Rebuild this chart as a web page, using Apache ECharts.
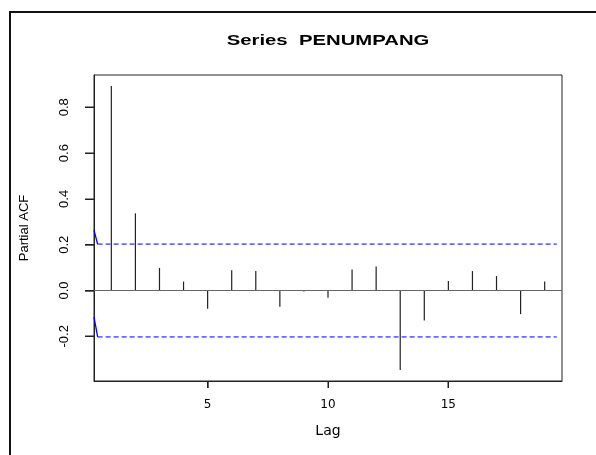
<!DOCTYPE html>
<html>
<head>
<meta charset="utf-8">
<script src="https://cdn.jsdelivr.net/npm/echarts@6/dist/echarts.min.js"></script>
<style>
  html, body { margin: 0; padding: 0; background: #fff; }
  #chart { width: 596px; height: 455px; }
</style>
</head>
<body>
<div id="chart"></div>
<script>
// ---- data ----
const lags = [1, 2, 3, 4, 5, 6, 7, 8, 9, 10, 11, 12, 13, 14, 15, 16, 17, 18, 19];
const pacfValues = [0.893, 0.337, 0.099, 0.039, -0.080, 0.089, 0.085, -0.071, -0.004, -0.032,
                    0.092, 0.105, -0.347, -0.131, 0.042, 0.085, 0.063, -0.103, 0.039];
const ciLimit = 0.2025;
const ciLagRange = [0.43, 19.5];
const blueTopSegment = [[0.28, 0.264], [0.43, 0.2025]];
const blueBottomSegment = [[0.28, -0.115], [0.43, -0.2025]];
const xTicks = [5, 10, 15];
const yTicks = [-0.2, 0.0, 0.2, 0.4, 0.6, 0.8];
const xRange = [0.28, 19.72];
const yRange = [-0.395, 0.941];
const titleText = 'Series  PENUMPANG';
const xName = 'Lag';
const yName = 'Partial ACF';

const barData = lags.map((l, i) => [l, pacfValues[i]]);
const ciUpper = ciLagRange.map(l => [l, ciLimit]);
const ciLower = ciLagRange.map(l => [l, -ciLimit]);

const chart = echarts.init(document.getElementById('chart'), null, { renderer: 'canvas' });
const FONT = '"Liberation Sans", Arial, sans-serif';

chart.setOption({
  animation: false,
  backgroundColor: '#fff',
  grid: {
    left: 94, right: 34, top: 75, bottom: 74,
    show: true, borderColor: '#222', borderWidth: 1, backgroundColor: 'transparent'
  },
  graphic: [
    {
      id: 'frame', type: 'rect', silent: true,
      shape: { x: 10, y: 12, width: 700, height: 600 },
      style: { fill: 'none', stroke: '#111', lineWidth: 2 }
    },
    {
      id: 'title', type: 'text', silent: true,
      x: 328, y: 41, scaleX: 1.45, scaleY: 1,
      style: {
        text: titleText, fontFamily: FONT, fontWeight: 'bold', fontSize: 14,
        fill: '#000', align: 'center', verticalAlign: 'middle'
      }
    }
  ],
  xAxis: {
    type: 'value', min: xRange[0], max: xRange[1],
    name: xName, nameLocation: 'middle', nameGap: 43,
    nameTextStyle: { fontFamily: '"DejaVu Sans", sans-serif', fontSize: 14, color: '#000' },
    axisLine: { show: true, onZero: false, lineStyle: { color: '#222', width: 1 } },
    splitLine: { show: false },
    axisTick: { show: true, inside: false, customValues: xTicks, length: 7, lineStyle: { color: '#222', width: 1 } },
    axisLabel: { show: true, customValues: xTicks, margin: 18, fontFamily: '"DejaVu Sans", sans-serif', fontSize: 12, color: '#000' }
  },
  yAxis: {
    type: 'value', min: yRange[0], max: yRange[1],
    name: yName, nameLocation: 'middle', nameGap: 63, nameRotate: 90,
    nameTextStyle: { fontFamily: FONT, fontSize: 13, color: '#000' },
    axisLine: { show: true, onZero: false, lineStyle: { color: '#222', width: 1 } },
    splitLine: { show: false },
    axisTick: { show: true, inside: false, customValues: yTicks, length: 9, lineStyle: { color: '#222', width: 1 } },
    axisLabel: {
      show: true, customValues: yTicks, rotate: 90, margin: 23,
      fontFamily: FONT, fontSize: 13, color: '#000',
      formatter: v => Number(v).toFixed(1)
    }
  },
  series: [
    {
      type: 'custom', data: barData, silent: true, clip: true,
      renderItem: function (params, api) {
        const p0 = api.coord([api.value(0), 0]);
        const p1 = api.coord([api.value(0), api.value(1)]);
        return {
          type: 'line',
          shape: { x1: p0[0], y1: p0[1], x2: p1[0], y2: p1[1] },
          style: { stroke: '#222', lineWidth: 1.2 }
        };
      },
      markLine: {
        silent: true, symbol: 'none', label: { show: false },
        lineStyle: { color: '#666', width: 1, type: 'solid' },
        data: [{ yAxis: 0 }]
      }
    },
    {
      type: 'line', data: ciUpper, symbol: 'none', silent: true,
      lineStyle: { color: '#6b6bff', width: 1.6, type: [5, 3] }
    },
    {
      type: 'line', data: ciLower, symbol: 'none', silent: true,
      lineStyle: { color: '#6b6bff', width: 1.6, type: [5, 3] }
    },
    {
      type: 'line', data: blueTopSegment, symbol: 'none', silent: true,
      lineStyle: { color: '#0000ff', width: 1.3 }
    },
    {
      type: 'line', data: blueBottomSegment, symbol: 'none', silent: true,
      lineStyle: { color: '#0000ff', width: 1.3 }
    }
  ]
});

// Axis tick marks as filled rectangles, positioned through the chart's own scales.
try {
  const tickGraphics = [];
  xTicks.forEach((v, i) => {
    const p = chart.convertToPixel({ xAxisIndex: 0, yAxisIndex: 0 }, [v, yRange[0]]);
    if (p && isFinite(p[0]) && isFinite(p[1])) {
      tickGraphics.push({
        id: 'xt' + i, type: 'rect', silent: true, z: 100,
        shape: { x: Math.round(p[0]) - 0.5, y: Math.round(p[1]), width: 1.2, height: 7 },
        style: { fill: '#222' }
      });
    }
  });
  yTicks.forEach((v, i) => {
    const p = chart.convertToPixel({ xAxisIndex: 0, yAxisIndex: 0 }, [xRange[0], v]);
    if (p && isFinite(p[0]) && isFinite(p[1])) {
      tickGraphics.push({
        id: 'yt' + i, type: 'rect', silent: true, z: 100,
        shape: { x: Math.round(p[0]) - 9, y: Math.round(p[1]) - 0.5, width: 9, height: 1.2 },
        style: { fill: '#222' }
      });
    }
  });
  chart.setOption({ graphic: tickGraphics });
} catch (e) { /* ticks are decorative */ }
</script>
</body>
</html>
